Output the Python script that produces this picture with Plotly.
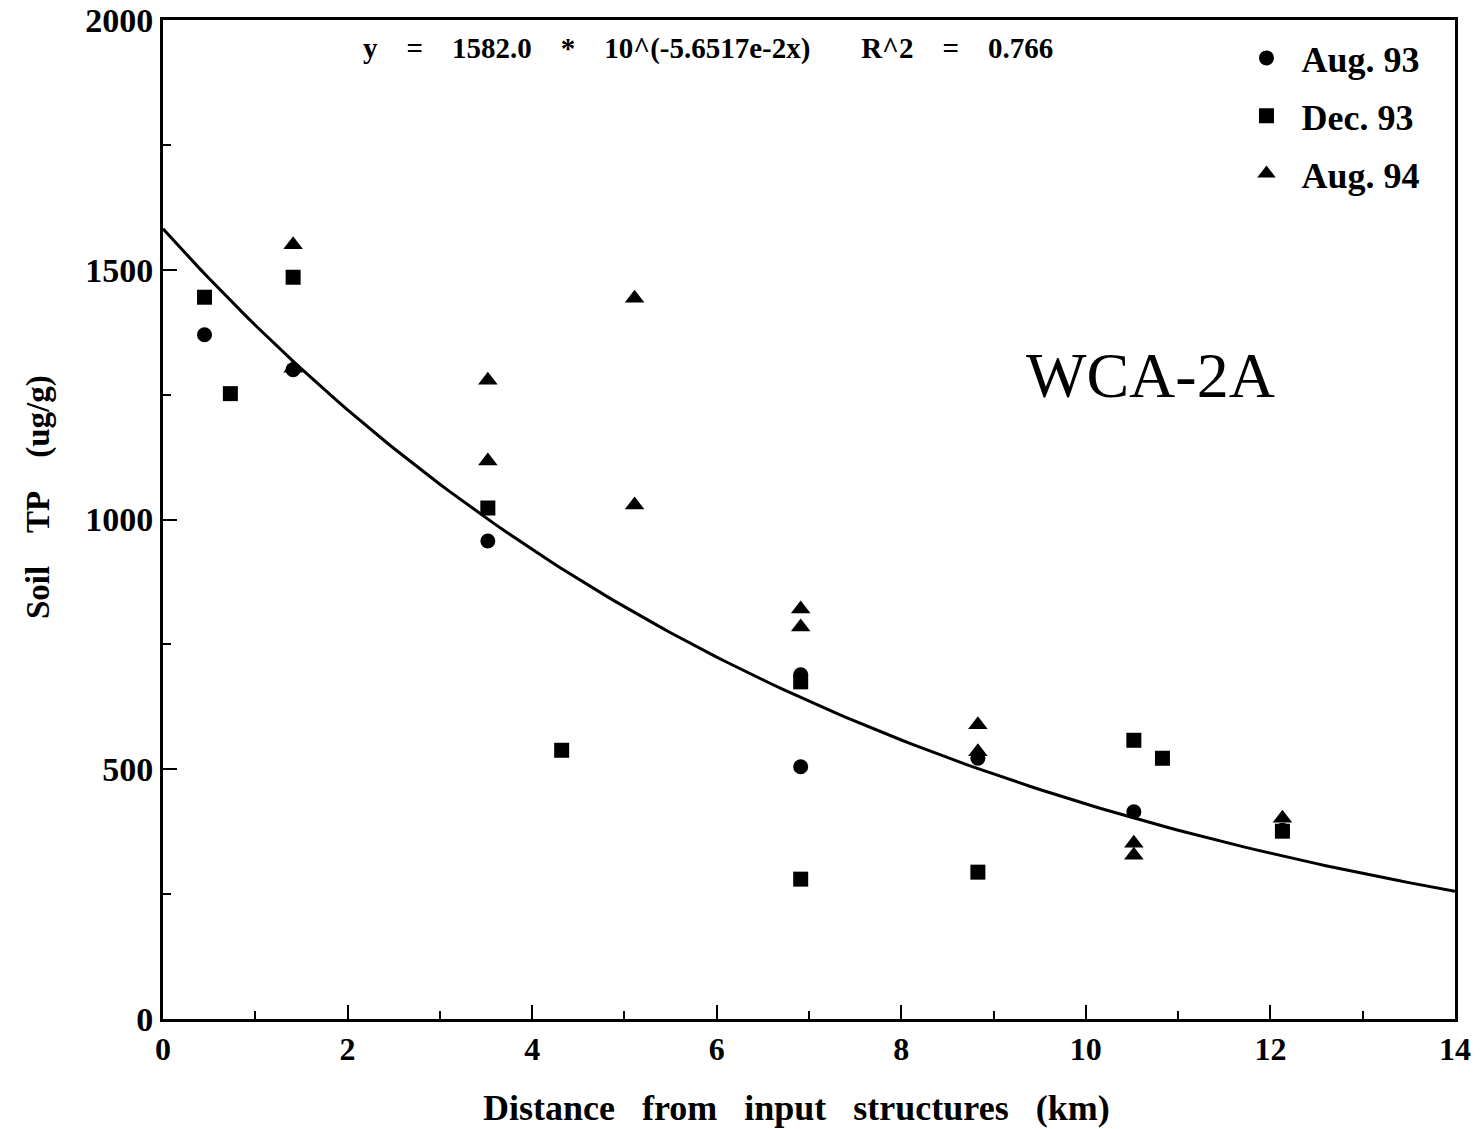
import numpy as np
import plotly.graph_objects as go

# Data
aug93_x = [0.45, 1.41, 3.52, 6.91, 6.91, 8.83, 10.52, 12.13]
aug93_y = [1370, 1300, 957, 689, 505, 522, 415, 378]

dec93_x = [0.45, 0.73, 1.41, 3.52, 4.32, 6.91, 6.91, 8.83, 10.52, 10.83, 12.13]
dec93_y = [1445, 1252, 1485, 1023, 538, 675, 280, 294, 558, 522, 376]

aug94_x = [1.41, 1.41, 3.52, 3.52, 5.11, 5.11, 6.91, 6.91, 8.83, 8.83, 10.52, 10.52, 12.13]
aug94_y = [1550, 1303, 1279, 1117, 1443, 1029, 821, 785, 589, 535, 352, 328, 402]

# Regression stated on the chart: y = 1582.0 * 10^(-5.6517e-2 x)
fit_a = 1582.0
fit_b = -5.6517e-2
fit_x = np.linspace(0, 14, 141)
fit_y = fit_a * 10 ** (fit_b * fit_x)

x_ticks = [0, 2, 4, 6, 8, 10, 12, 14]
y_ticks = [0, 500, 1000, 1500, 2000]

FONT = "Liberation Serif"
SP = "\u00a0"

fig = go.Figure()
fig.add_trace(go.Scatter(x=fit_x, y=fit_y, mode="lines",
                         line=dict(color="black", width=3), showlegend=False))
fig.add_trace(go.Scatter(x=aug93_x, y=aug93_y, mode="markers", name="<b>Aug. 93</b>",
                         legendgroup="a", marker=dict(symbol="circle", size=15, color="black")))
fig.add_trace(go.Scatter(x=dec93_x, y=dec93_y, mode="markers", name="<b>Dec. 93</b>",
                         legendgroup="b", marker=dict(symbol="square", size=15, color="black")))
fig.add_trace(go.Scatter(x=aug94_x, y=aug94_y, mode="markers", name="<b>Aug. 94</b>",
                         legendgroup="c", marker=dict(symbol="triangle-up", size=17, color="black")))

eq_text = ("<b>y" + SP * 4 + "=" + SP * 4 + "1582.0" + SP * 4 + "*" + SP * 4 +
           "10^(-5.6517e-2x)" + SP * 7 + "R^2" + SP * 4 + "=" + SP * 4 + "0.766</b>")
x_title = "<b>" + (SP * 3).join(["Distance", "from", "input", "structures", "(km)"]) + "</b>"
y_title = "<b>" + (SP * 4).join(["Soil", "TP", "(ug/g)"]) + "</b>"

fig.update_layout(
    width=1484, height=1129,
    margin=dict(l=155, r=37, t=12, b=118),
    paper_bgcolor="white", plot_bgcolor="white",
    font=dict(family=FONT, color="black"),
    legend=dict(x=0.827, y=0.992, xanchor="left", yanchor="top",
                font=dict(family=FONT, size=36, color="black"),
                bgcolor="rgba(0,0,0,0)", itemwidth=60, tracegroupgap=8),
    xaxis=dict(range=[0, 14], tickvals=x_ticks, ticktext=[f"<b>{v}</b>" for v in x_ticks],
               ticks="inside", ticklen=14, tickwidth=2, tickcolor="black",
               minor=dict(dtick=1, ticks="inside", ticklen=8, tickwidth=2, tickcolor="black"),
               showline=True, linewidth=3, linecolor="black", mirror=True,
               showgrid=False, zeroline=False, ticklabeloverflow="allow", automargin=False,
               tickfont=dict(family=FONT, size=32)),
    yaxis=dict(range=[0, 2000], tickvals=y_ticks, ticktext=[f"<b>{v}</b>" for v in y_ticks],
               ticks="inside", ticklen=14, tickwidth=2, tickcolor="black",
               minor=dict(dtick=250, ticks="inside", ticklen=8, tickwidth=2, tickcolor="black"),
               showline=True, linewidth=3, linecolor="black", mirror=True,
               showgrid=False, zeroline=False, ticklabeloverflow="allow", automargin=False,
               tickfont=dict(family=FONT, size=34)),
    annotations=[
        dict(x=0.422, y=0.971, xref="paper", yref="paper", xanchor="center", yanchor="middle",
             showarrow=False, text=eq_text,
             font=dict(family=FONT, size=29, color="black")),
        dict(x=0.764, y=0.644, xref="paper", yref="paper", xanchor="center", yanchor="middle",
             showarrow=False, text="WCA-2A",
             font=dict(family=FONT, size=64, color="black")),
        dict(x=0.49, y=-0.089, xref="paper", yref="paper", xanchor="center", yanchor="middle",
             showarrow=False, text=x_title,
             font=dict(family=FONT, size=36, color="black")),
        dict(x=-0.0967, y=0.5225, xref="paper", yref="paper", xanchor="center", yanchor="middle",
             showarrow=False, text=y_title, textangle=-90,
             font=dict(family=FONT, size=33, color="black")),
    ],
)

fig.write_html("out.html")
